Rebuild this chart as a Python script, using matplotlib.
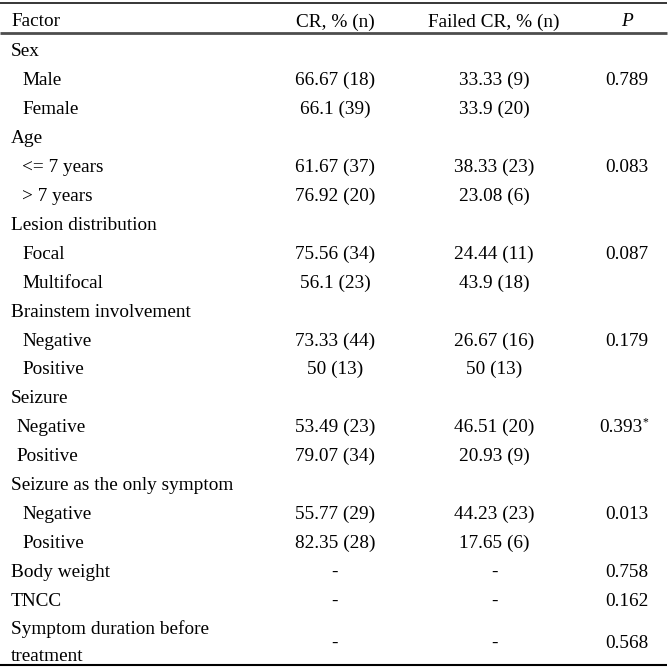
import matplotlib
matplotlib.use("Agg")
import matplotlib.pyplot as plt

plt.rcParams['font.family'] = ['Liberation Serif', 'DejaVu Serif']

# ---- data ----
headers = ["Factor", "CR, % (n)", "Failed CR, % (n)", "P"]
factors = ["Sex", "Male", "Female", "Age", "<= 7 years", "> 7 years",
           "Lesion distribution", "Focal", "Multifocal",
           "Brainstem involvement", "Negative", "Positive",
           "Seizure", "Negative", "Positive",
           "Seizure as the only symptom", "Negative", "Positive",
           "Body weight", "TNCC", "Symptom duration before\ntreatment"]
indent = [0, 2, 2, 0, 2, 2, 0, 2, 2, 0, 2, 2, 0, 1, 1, 0, 2, 2, 0, 0, 0]
cr = ["", "66.67 (18)", "66.1 (39)", "", "61.67 (37)", "76.92 (20)",
      "", "75.56 (34)", "56.1 (23)", "", "73.33 (44)", "50 (13)",
      "", "53.49 (23)", "79.07 (34)", "", "55.77 (29)", "82.35 (28)",
      "-", "-", "-"]
failed = ["", "33.33 (9)", "33.9 (20)", "", "38.33 (23)", "23.08 (6)",
          "", "24.44 (11)", "43.9 (18)", "", "26.67 (16)", "50 (13)",
          "", "46.51 (20)", "20.93 (9)", "", "44.23 (23)", "17.65 (6)",
          "-", "-", "-"]
pvals = ["", "0.789", "", "", "0.083", "", "", "0.087", "", "", "0.179", "",
         "", "0.393", "", "", "0.013", "", "0.758", "0.162", "0.568"]
pmark = ["", "", "", "", "", "", "", "", "", "", "", "",
         "", "*", "", "", "", "", "", "", ""]

# ---- layout ----
W = H = 669
fig = plt.figure(figsize=(W / 100, H / 100), dpi=100)
ax = fig.add_axes([0, 0, 1, 1])
ax.set_xlim(0, W)
ax.set_ylim(H, 0)
ax.axis("off")

fs = 13.9
x_fac, x_cr, x_fail, x_p = 11, 335, 494, 627
ind_px = 5.5
row0, dy = 56.5, 28.9
y_head = 26.5

kw = dict(fontsize=fs, va="baseline")
ax.text(x_fac, y_head, headers[0], ha="left", **kw)
ax.text(x_cr, y_head, headers[1], ha="center", **kw)
ax.text(x_fail, y_head, headers[2], ha="center", **kw)
ax.text(x_p, y_head, headers[3], ha="center", style="italic", **kw)

for i, (f, lv, c, fl, p, m) in enumerate(zip(factors, indent, cr, failed, pvals, pmark)):
    y = row0 + i * dy
    xf = x_fac + lv * ind_px
    if "\n" in f:
        a, b = f.split("\n")
        ax.text(xf, y, a, ha="left", **kw)
        ax.text(xf, y + 26.5, b, ha="left", **kw)
        y = y + 13.5
    else:
        ax.text(xf, y, f, ha="left", **kw)
    ax.text(x_cr, y, c, ha="center", **kw)
    ax.text(x_fail, y, fl, ha="center", **kw)
    if m:
        ax.text(x_p + 15, y, p, ha="right", **kw)
        ax.text(x_p + 15.5, y - 7, m, fontsize=fs * 0.6, va="baseline", ha="left")
    else:
        ax.text(x_p, y, p, ha="center", **kw)

# rules
ax.plot([0, 667], [2.8, 2.8], color="black", lw=1.1, solid_capstyle="butt")
ax.plot([0, 667], [33, 33], color="#4d4d4d", lw=2.0, solid_capstyle="butt")
ax.plot([0, 667], [665, 665], color="black", lw=1.5, solid_capstyle="butt")

fig.savefig("out.png", dpi=100, facecolor="white")
